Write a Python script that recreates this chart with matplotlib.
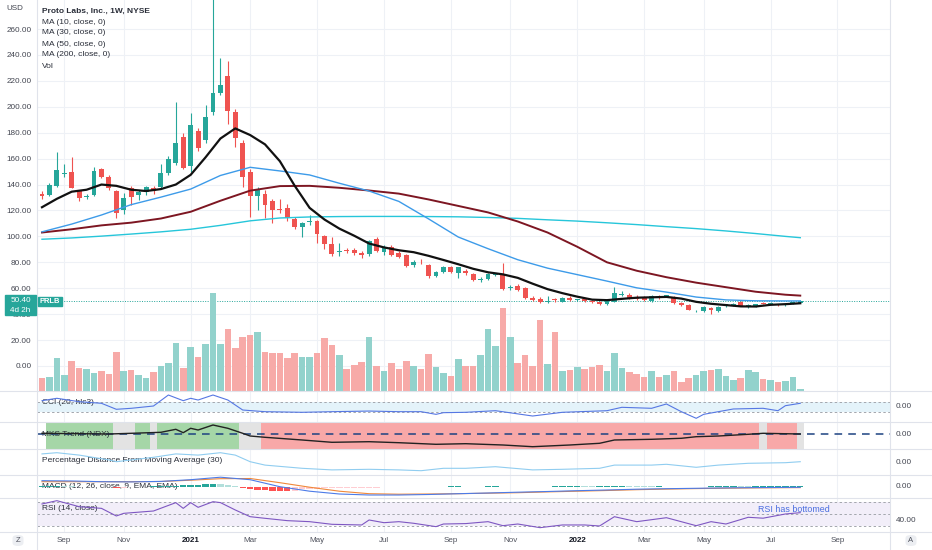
import numpy as np
import pandas as pd
import matplotlib
matplotlib.use("Agg")
import matplotlib.pyplot as plt
import matplotlib.dates as mdates
import matplotlib.transforms as mtransforms
from matplotlib.patches import Rectangle, FancyBboxPatch
from matplotlib.lines import Line2D

plt.rcParams['font.family'] = ['Liberation Sans', 'DejaVu Sans']

# ---- weekly candles, PRLB (NYSE), first bar week of 2020-08-17 ----
week_start = "2020-08-17"
opens = [133, 132, 139, 148, 150, 135, 130.5, 132, 152, 146,
         135, 120, 137, 132, 134, 137, 138, 149, 157, 177,
         154, 181, 174, 196, 211, 224, 196, 172, 150, 131,
         133, 127, 121, 122, 113.4, 107, 111, 112, 100, 94,
         88, 89.5, 89.5, 87.4, 86.4, 98, 88, 92, 87.2, 85.6,
         77.9, 80.5, 77.9, 69.7, 72.3, 76.1, 72, 73.3, 71, 66.5,
         67, 70.5, 70.7, 60.2, 62, 60, 52.7, 51.7, 49.4, 51.2,
         49.6, 52.7, 50.8, 51.7, 50.4, 49.2, 47.8, 49.6, 54.6, 54.8,
         53.5, 53, 50.1, 53.5, 53.8, 53.5, 48.9, 47.1, 42.2, 42.4,
         44.5, 42.4, 46.9, 46.3, 49.2, 46.2, 46.3, 48.4, 48.2, 47.3,
         47.6, 48, 48.9]
highs = [135, 141, 165, 156, 161, 136, 133, 153.5, 153, 147,
         136, 133.5, 139, 136, 139, 139, 156, 162, 204, 180,
         195, 184, 201, 285, 238, 235, 198, 174, 152, 138,
         136, 129, 128.8, 125, 115, 111, 116.5, 113, 101, 99.5,
         95, 91, 91, 89, 97.5, 99.5, 93, 93.5, 88.5, 86.5,
         81.5, 82.5, 79, 73, 77.5, 77, 76.5, 74.5, 72, 68.5,
         71.5, 72, 79.2, 62.5, 63, 61, 54, 53, 54, 52.5,
         53.5, 54, 52, 52.5, 51, 50, 51, 60.7, 57.5, 56,
         54.5, 54, 55, 54.5, 55, 54, 49.5, 47.5, 43.5, 46.5,
         45.5, 46.5, 48, 48.5, 50, 47.5, 48, 49, 49, 48,
         48.5, 49.5, 51]
lows = [129, 131, 138, 146, 137, 127, 129, 131, 145, 136,
        114, 117, 124, 128, 132, 133, 137, 147, 155, 152,
        150, 166, 172, 194, 209, 187, 169, 138, 115, 120,
        114, 110, 118, 112, 106, 99.5, 109, 95, 90, 85,
        85, 87, 86, 83, 85, 88, 86, 84.5, 83, 76.5,
        76.5, 79, 68, 68.5, 71.5, 71.5, 68, 70.5, 65.5, 65,
        66, 69.5, 58.5, 58.5, 58, 52, 50.5, 48.5, 48.5, 49.5,
        49, 50.5, 50, 49.5, 48.8, 47, 47, 49, 54, 52,
        51, 50.5, 49.5, 52, 53, 48, 46.5, 43, 41.5, 42,
        40, 42, 45.5, 46, 46, 45, 45.5, 47.5, 47.5, 46,
        46.5, 47.5, 48.5]
closes = [131, 140, 151, 149, 137.5, 130, 131, 150.5, 146, 137.5,
          118, 130, 130.5, 134, 138, 135, 149, 160, 172, 153,
          186, 168, 192, 211, 217, 197, 176, 146, 131, 135.5,
          124, 120, 120, 114, 107.5, 110, 112, 101.5, 94, 86.2,
          89, 89, 87.4, 85.6, 96.7, 89, 92, 85.6, 83.9, 77.4,
          80.4, 80, 69.4, 72.3, 76.6, 72.3, 76, 71.5, 66.4, 67,
          71, 71, 59.2, 60.7, 59, 52.7, 50.9, 49.4, 49.8, 50.9,
          52.7, 50.9, 51, 50, 49.2, 47.6, 50.4, 56, 55, 52.7,
          51.5, 50.9, 54, 52.2, 54, 48.3, 47.1, 43.2, 42.5, 45.8,
          43.2, 45.8, 47.1, 47.8, 46.5, 46.4, 47.6, 48.2, 48.4, 47.1,
          47.8, 49, 50.4]
volume_k = [333, 358, 833, 400, 750, 583, 543, 443, 500, 418,
            975, 500, 525, 400, 318, 468, 633, 693, 1208, 568,
            1108, 843, 1175, 2443, 1175, 1550, 1083, 1350, 1388, 1475,
            975, 943, 943, 813, 943, 858, 843, 958, 1325, 1150,
            900, 543, 643, 725, 1350, 625, 500, 693, 550, 743,
            625, 543, 933, 593, 458, 368, 793, 625, 625, 900,
            1550, 1118, 2058, 1355, 693, 893, 633, 1758, 675, 1468,
            500, 525, 608, 558, 593, 643, 508, 943, 575, 468,
            418, 358, 508, 358, 408, 493, 233, 325, 400, 508,
            525, 543, 383, 275, 318, 525, 468, 300, 275, 233,
            250, 350, 50]
last_price = 50.40

# moving averages (bar index -> value)
ma10_idx = list(range(0, 103, 2))
ma10 = [122.5, 129, 134.5, 136, 140, 139, 136, 135, 136.5, 140,
        147.5, 161, 175.5, 183.3, 178.2, 171, 158, 139, 122, 113,
        106, 100.5, 94.5, 91.5, 89.3, 87.8, 85, 81.8, 78.5, 75,
        72.3, 70.7, 68, 63.5, 59.3, 56.2, 53.5, 51.2, 50.8, 51.8,
        52.7, 53, 53.3, 52, 49.5, 48, 47, 46, 45.9, 47.2,
        47.7, 48.4]
ma_idx = list(range(0, 101, 4)) + [102]
ma30 = [103.5, 109.5, 116.5, 124.5, 130.3, 136.5, 147, 153.3, 150.5, 147.4,
        141, 135, 127, 113.5, 99.5, 90.5, 82, 75.5, 70.5, 65.5,
        60.3, 57, 53.2, 51, 50.3, 50.2, 50.2]
ma50 = [103, 105.5, 108.5, 110.6, 113.8, 119, 127.5, 135.3, 138.8, 139,
        137.5, 135.4, 133, 128.5, 123.5, 118.5, 111.5, 103, 92, 80,
        73.5, 68.5, 64.3, 60.8, 57.3, 55, 54.3]
ma200 = [97.8, 98.8, 100.2, 101.8, 103.5, 105.5, 108.5, 112, 114.2, 115,
         115.3, 115.4, 115.4, 115.3, 115.1, 114.6, 113.9, 112.8, 111.8, 110.5,
         109.1, 107.5, 106, 104.2, 102.2, 100, 99]

# indicators (bar index -> value)
cci_idx = [0, 2, 5, 8, 10, 12, 15, 17, 19, 20, 21, 23, 25, 27, 30, 35, 39, 44, 48, 51,
           53, 54, 57, 61, 66, 70, 76, 78, 82, 84, 86, 88, 89, 93, 97, 99, 100, 102]
cci = [140, 193, 118, 82, -51, -29, 22, 266, 140, 193, 155, 266, 155, -67, -104, -118, -104, -90, -104, -104,
       -163, -126, -118, -82, -200, -118, -82, -7, -29, 67, -104, -251, -163, -44, -29, -82, 29, 82]

mks_idx = [0, 9, 12, 16, 18, 19, 20, 21, 23, 25, 27, 28, 30, 35, 39, 44, 48, 53, 57, 62,
           66, 71, 75, 77, 82, 86, 88, 91, 95, 97, 102]
mks = [0.7, 0, 0.7, 1.7, 4.7, 1.3, 5.7, 4, 9, 5.7, 0.7, -2, -3.3, -6, -8.3, -7.7, -8.7, -10.3, -9.7, -11,
       -12.7, -11, -9.3, -6, -5.3, -4.3, -2.7, -2, -0.3, 0.7, 0]
mks_runs = [("none", 1), ("up", 9), ("flat", 3), ("up", 2), ("flat", 1), ("up", 11),
            ("flat", 3), ("down", 67), ("flat", 1), ("down", 4), ("flat", 1)]

pd_idx = [0, 2, 5, 9, 10, 15, 18, 21, 24, 26, 28, 30, 35, 39, 44, 48, 51, 54, 57, 61,
          66, 70, 75, 77, 82, 84, 88, 91, 95, 100, 102]
pdist = [22, 25, 19, 7, 2.5, 13.5, 22, 19, 25, 19, 2.5, -6, -14, -18, -16.5, -18, -20, -14, -14, -10,
         -18, -16.5, -14, -6, -6, -4, -11.5, -6, -1.5, 0, 2.5]

macd = [6, 5.7, 5, 4.8, 5.3, 7, 9.5, 7, 0, -4.5, -7.3, -8.3, -8.3, -7.8, -7, -6.3, -5.5, -4.8,
        -4, -3.3, -2.5, -2, -1.6, -1.2, -0.9, -0.7, -0.6]
signal = [5, 5, 5, 5, 5.2, 6.5, 8, 8.2, 4, -0.5, -4.5, -7, -7.5, -7.3, -7, -6.5, -6, -5.2,
          -4.5, -3.8, -3, -2.4, -1.9, -1.5, -1.2, -1.0, -0.9]
hist = [0.5, 0.8, 1.0, 0.8, 0.3, -0.3, -0.5, -0.3, -0.2,
        -0.6, -1.0, -0.8, -0.5, -0.3, 0.2, 0.4, 0.6, 0.8, 1.2,
        1.5, 1.8, 2.2, 2.5, 2.8, 2.6, 1.5, 0.8, -1.5, -2.5,
        -3.0, -3.5, -3.8, -4.0, -4.2, -4.0, -2.2, -2.0, -1.8, -1.7,
        -1.6, -1.5, -1.3, -1.2, -1.0, -0.8, -0.8, -0.7, -0.6, -0.6,
        -0.6, -0.5, -0.4, -0.5, -0.4, -0.2, 0.3, 0.3, 0.2, 0.2,
        0.2, 0.3, 0.4, -0.4, -0.5, -0.4, -0.6, -0.4, -0.2, 0.2,
        0.4, 0.5, 0.5, 0.6, 0.5, 0.4, 0.4, 0.5, 0.8, 0.8,
        0.7, 0.5, 0.4, 0.3, 0.3, 0.2, -0.2, -0.3, -0.4, -0.2,
        0.2, 0.3, 0.5, 0.6, 0.7, 0.6, 0.5, 0.6, 0.7, 0.7,
        0.8, 0.9, 1.0, 1.1]

rsi_idx = [0, 2, 3, 5, 8, 10, 11, 15, 18, 19, 20, 21, 23, 24, 26, 28, 30, 33, 36, 39,
           43, 44, 46, 48, 50, 53, 54, 57, 60, 62, 64, 67, 70, 73, 75, 77, 80, 84, 88, 90,
           92, 95, 97, 100, 102]
rsi = [66.7, 72.2, 68.9, 62.2, 59.4, 46.7, 51.1, 55, 68.9, 59.4, 68.9, 61.1, 70.5, 69, 56.7, 45.5, 42.8, 38.9, 37.2, 32.8,
       31.7, 40, 35.5, 37.2, 34.5, 28.9, 33.3, 34, 37.2, 30.5, 33.3, 27.2, 31.7, 31.7, 30, 45.5, 37.2, 43.8, 30.5, 37.2,
       33.3, 44.5, 43, 50, 52.2]

tick_labels = ["Sep", "Nov", "2021", "Mar", "May", "Jul", "Sep",
               "Nov", "2022", "Mar", "May", "Jul", "Sep"]

# ---- layout (pixels) ----
W, H = 932, 550
GREEN, RED = "#26a69a", "#ef5350"
TXT = "#2a2e39"
GRID = "#eef1f6"
fig = plt.figure(figsize=(W / 100, H / 100), dpi=100)


def pane(top, bottom):
    return fig.add_axes([37 / W, 1 - bottom / H, (890 - 37) / W, (bottom - top) / H])


dates = pd.date_range(week_start, periods=len(closes), freq="W-MON")
x = mdates.date2num(dates)
ticks = mdates.date2num(pd.date_range("2020-09-01", "2022-09-30", freq="WOM-1MON")[::2])
xlim = (x[0] - 4.7, x[0] + 798.5)

# main pane
ax = pane(0, 391)
ax.set_xlim(*xlim)
ax.set_ylim(-19.3, 282.4)
for s in ax.spines.values():
    s.set_visible(False)
ax.set_xticks([])
yt = np.arange(0, 261, 20)
ax.set_yticks(yt)
ax.set_yticklabels([f"{v:.2f}" for v in yt])
ax.tick_params(axis="y", length=0, pad=4, labelsize=5.9, labelcolor="#434651")
for v in yt:
    ax.axhline(v, color=GRID, lw=0.8, zorder=0)
for t in ticks:
    ax.axvline(t, color=GRID, lw=0.8, zorder=0)

o, h, l, c = map(np.array, (opens, highs, lows, closes))
col = np.where(c >= o, GREEN, RED)
ax.vlines(x, l, h, colors=col, lw=0.8, zorder=3)
ax.bar(x, np.maximum(np.abs(c - o), 0.6), bottom=np.minimum(o, c), width=4.6,
       color=col, lw=0, zorder=4)

ax.plot(x[ma200_i] if False else x[ma_idx], ma200, color="#26c6da", lw=1.0, zorder=5)
ax.plot(x[ma_idx], ma50, color="#7d1622", lw=1.4, zorder=5)
ax.plot(x[ma_idx], ma30, color="#3d9be9", lw=1.0, zorder=5)
ax.plot(x[ma10_idx], ma10, color="#111111", lw=1.6, zorder=6)
ax.axhline(last_price, color=GREEN, ls=(0, (1, 1.5)), lw=0.7, zorder=2)

axv = ax.twinx()
axv.set_ylim(0, max(volume_k) * 391 / 98)
axv.bar(x, volume_k, width=6.2, color=np.where(c >= o, "#92d2cc", "#f7aaa8"), lw=0, zorder=1)
axv.set_yticks([])
for s in axv.spines.values():
    s.set_visible(False)

fig.text(6 / W, 1 - 9 / H, "USD", fontsize=5.8, color="#434651", va="center")
legend_lines = ["MA (10, close, 0)", "MA (30, close, 0)", "MA (50, close, 0)",
                "MA (200, close, 0)", "Vol"]
fig.text(42 / W, 1 - 11 / H, "Proto Labs, Inc., 1W, NYSE", fontsize=6, fontweight="bold",
         color=TXT, va="center")
for i, s in enumerate(legend_lines):
    fig.text(42 / W, 1 - (22 + 11 * i) / H, s, fontsize=6, color=TXT, va="center")

# price badges
fig.add_artist(Rectangle((5 / W, 1 - 315 / H), 31 / W, 20 / H, transform=fig.transFigure,
                         color=GREEN, zorder=20))
fig.text(20.5 / W, 1 - 300.5 / H, "50.40", fontsize=5.9, color="white", ha="center", va="center", zorder=21)
fig.text(20.5 / W, 1 - 310.5 / H, "4d 2h", fontsize=5.9, color="white", ha="center", va="center", zorder=21)
fig.add_artist(Rectangle((38 / W, 1 - 306 / H), 24 / W, 9.5 / H, transform=fig.transFigure,
                         color=GREEN, zorder=20))
fig.text(50 / W, 1 - 301.3 / H, "PRLB", fontsize=5.4, color="white", fontweight="bold",
         ha="center", va="center", zorder=21)


def ind_pane(top, bottom, ylim):
    a = pane(top, bottom)
    a.set_xlim(*xlim)
    a.set_ylim(*ylim)
    a.axis("off")
    for t in ticks:
        a.axvline(t, color=GRID, lw=0.8, zorder=0)
    return a


def pane_label(a, ypx, s):
    a.text(42 / W, 1 - ypx / H, s, transform=fig.transFigure, fontsize=6, color=TXT,
           va="center", zorder=1)


def right_label(ypx, s):
    fig.text(896 / W, 1 - ypx / H, s, fontsize=5.9, color="#434651", va="center")


dash = (0, (2.5, 2.5))

# CCI
a1 = ind_pane(391, 422, (-333, 355))
a1.axhspan(-100, 100, color="#e4f3fa", zorder=0.5, lw=0)
a1.axhline(100, color="#a3a6ad", ls=dash, lw=0.7, zorder=2)
a1.axhline(-100, color="#a3a6ad", ls=dash, lw=0.7, zorder=2)
pane_label(a1, 402, "CCI (20, hlc3)")
a1.plot(x[cci_idx], cci, color="#5677e3", lw=0.8, zorder=3)
right_label(407, "0.00")

# MKS trend
a2 = ind_pane(422, 449, (-15, 12))
state_col = {"up": "#a5d6a7", "flat": "#e3e3e3", "down": "#f8a8a8"}
pos = 0
for state, n in mks_runs:
    if state in state_col:
        a2.axvspan(x[pos] - 3.5, x[pos + n - 1] + 3.5, color=state_col[state], lw=0, zorder=0.5)
    pos += n
pane_label(a2, 434, "MKS Trend (NDX)")
a2.axhline(0, color="#1d4281", ls=(0, (5, 4)), lw=1.1, zorder=2)
a2.plot(x[mks_idx], mks, color="#222222", lw=1.0, zorder=3)
right_label(434, "0.00")

# percentage distance from MA
a3 = ind_pane(449, 474.5, (-29.5, 34.25))
pane_label(a3, 461, "Percentage Distance From Moving Average (30)")
a3.plot(x[pd_idx], pdist, color="#90cdf0", lw=0.8, zorder=3)
right_label(462.7, "0.00")

# MACD
a4 = ind_pane(474.5, 497.5, (-10.8, 12.2))
pane_label(a4, 486, "MACD (12, 26, close, 9, EMA, EMA)")
hcol = []
for i, v in enumerate(hist):
    prev = hist[i - 1] if i > 0 else v
    if v >= 0:
        hcol.append("#26a69a" if v >= prev else "#b2dfdb")
    else:
        hcol.append("#ff5252" if v < prev else "#ffcdd2")
a4.bar(x, hist, width=6.0, color=hcol, lw=0, zorder=2)
a4.plot(x[ma_idx], signal, color="#f0883a", lw=0.8, zorder=3)
a4.plot(x[ma_idx], macd, color="#4c7be8", lw=0.8, zorder=3)
right_label(486.7, "0.00")

# RSI
a5 = ind_pane(497.5, 531.5, (20.8, 77.5))
a5.axhspan(30, 70, color="#f2eef9", lw=0, zorder=0.5)
for v in (70, 50, 30):
    a5.axhline(v, color="#a3a6ad", ls=dash, lw=0.7, zorder=2)
pane_label(a5, 508, "RSI (14, close)")
a5.plot(x[rsi_idx], rsi, color="#7e57c2", lw=0.8, zorder=3)
a5.text(794 / W, 1 - 510 / H, "RSI has bottomed", transform=fig.transFigure, fontsize=6.4,
        color="#4a6ee0", ha="center", va="center", zorder=4)
right_label(520, "40.00")

# time axis
at = pane(531.5, 550)
at.set_xlim(*xlim)
at.axis("off")
tr = mtransforms.blended_transform_factory(at.transData, at.transAxes)
for t, lab in zip(ticks, tick_labels):
    year = lab.isdigit()
    at.text(t, 0.5, lab, transform=tr, ha="center", va="center", fontsize=5.8,
            color="#131722" if year else "#50535e", fontweight="bold" if year else "normal")

# pane separators and frame lines
for ypx in (391, 422, 449, 474.5, 497.5, 531.5):
    fig.add_artist(Line2D([0, 1], [1 - ypx / H] * 2, transform=fig.transFigure,
                          color="#e0e3eb", lw=0.8))
for xpx in (37, 890):
    fig.add_artist(Line2D([xpx / W] * 2, [0, 1], transform=fig.transFigure,
                          color="#e0e3eb", lw=0.8))

for cx, s in ((18, "Z"), (911, "A")):
    fig.add_artist(FancyBboxPatch(((cx - 5.5) / W, 1 - 546 / H), 11 / W, 11 / H,
                                  boxstyle="round,pad=0,rounding_size=0.006",
                                  transform=fig.transFigure, color="#eceef2", lw=0))
    fig.text(cx / W, 1 - 540.5 / H, s, fontsize=5.5, color="#50535e", ha="center", va="center")

fig.savefig("out.png", dpi=100)
